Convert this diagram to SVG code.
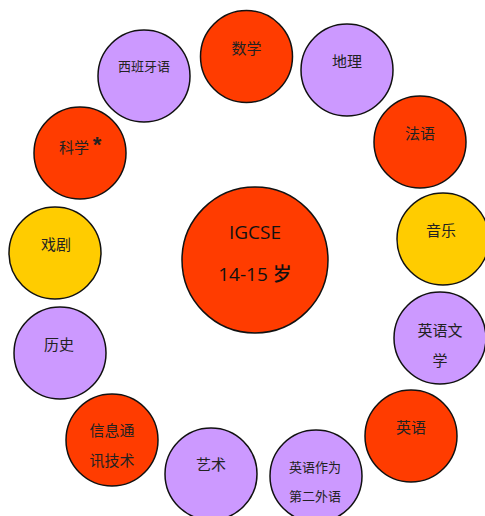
<svg xmlns="http://www.w3.org/2000/svg" width="485" height="516" viewBox="0 0 485 516">
<style>
circle{stroke:#111;stroke-width:1.5}
.r{fill:#FF3C00}
.p{fill:#CC99FF}
.y{fill:#FFCC00}
text{font-family:"Noto Sans CJK SC","Noto Sans",sans-serif;font-size:15px;fill:#222;text-anchor:middle;dominant-baseline:central}
.s{font-size:13px}
.big{font-family:"Open Sans","Noto Sans CJK SC",sans-serif;font-size:19px;fill:#111;font-weight:500}
</style>
<rect width="485" height="516" fill="#fff"/>
<g id="connectors"/>
<g id="center"><circle class="r" cx="255" cy="260" r="73"/><text class="big" x="255" y="232">IGCSE</text><text class="big" x="255" y="274">14-15 岁</text></g>
<g id="math"><circle class="r" cx="246.5" cy="56.5" r="46"/><text x="246.5" y="47">数学</text></g>
<g id="spanish"><circle class="p" cx="144" cy="76" r="46"/><text class="s" x="144" y="65">西班牙语</text></g>
<g id="geography"><circle class="p" cx="347" cy="70" r="46"/><text x="347" y="60">地理</text></g>
<g id="french"><circle class="r" cx="420" cy="142" r="46"/><text x="420" y="132">法语</text></g>
<g id="science"><circle class="r" cx="80" cy="153" r="46"/><text x="74" y="146">科学</text><text x="97" y="144" style="font-size:22px;font-weight:bold;font-family:'Liberation Sans',sans-serif">*</text></g>
<g id="drama"><circle class="y" cx="55" cy="253" r="46"/><text x="56" y="243">戏剧</text></g>
<g id="music"><circle class="y" cx="443" cy="239" r="46"/><text x="441" y="229">音乐</text></g>
<g id="history"><circle class="p" cx="60" cy="353" r="46"/><text x="59" y="343">历史</text></g>
<g id="ict"><circle class="r" cx="112" cy="440" r="46"/><text x="112" y="429">信息通</text><text x="112" y="459">讯技术</text></g>
<g id="art"><circle class="p" cx="211" cy="474" r="46"/><text x="211" y="463">艺术</text></g>
<g id="esl"><circle class="p" cx="316" cy="476" r="46"/><text class="s" x="315" y="466">英语作为</text><text class="s" x="315" y="495">第二外语</text></g>
<g id="english"><circle class="r" cx="411" cy="436" r="46"/><text x="411" y="426">英语</text></g>
<g id="englit"><circle class="p" cx="440" cy="338" r="46"/><text x="440" y="329">英语文</text><text x="440" y="359">学</text></g>
</svg>
